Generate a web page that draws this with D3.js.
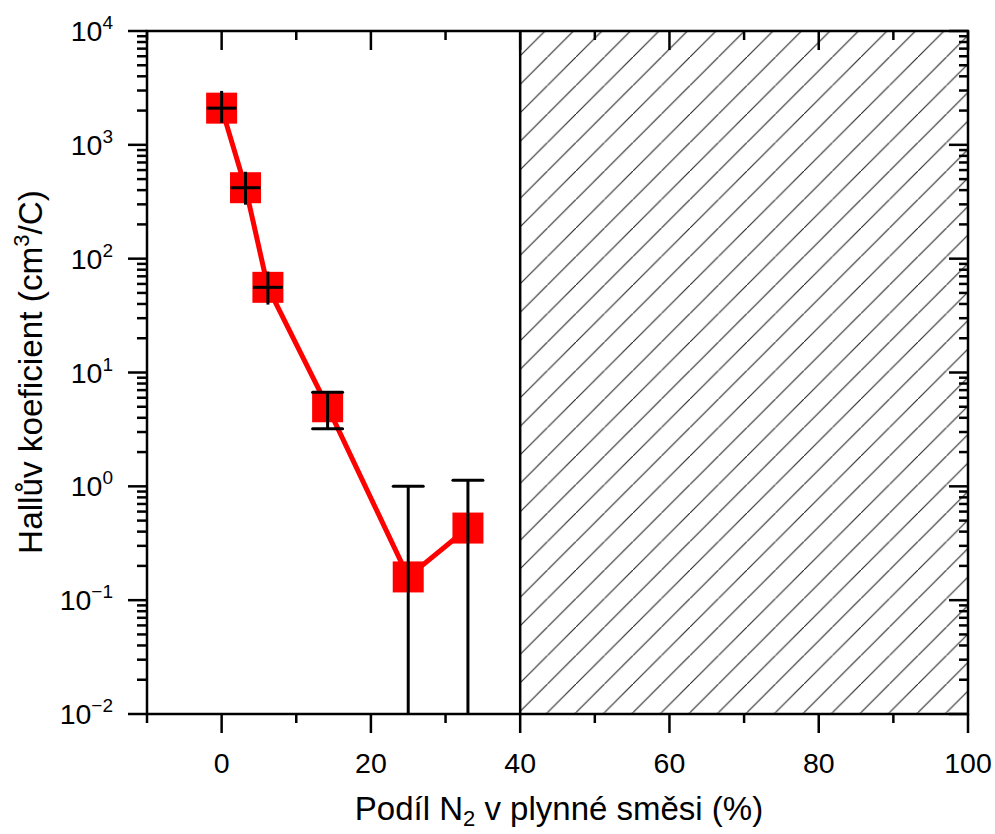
<!DOCTYPE html>
<html><head><meta charset="utf-8">
<script src="https://cdn.jsdelivr.net/npm/d3@7"></script>
<style>body{margin:0;background:#fff}svg{display:block}text{font-family:Arial,"Liberation Sans",sans-serif;fill:#000}</style>
</head><body>
<svg id="c" width="995" height="834"></svg>
<script>
const xVals = [0, 3.2, 6.2, 14.2, 25, 33];
const yVals = [2100, 420, 56, 5.0, 0.16, 0.43];
const yErrLow = [1560, 298, 39.5, 3.2, 0.001, 0.001];
const yErrHigh = [2976, 580, 77, 6.7, 1.0, 1.13];
const xErr = [2, 2, 2, 0, 0, 0];
const capShown = [false, false, false, true, true, true];
const xTicks = [0, 20, 40, 60, 80, 100];
const yTickExps = [-2, -1, 0, 1, 2, 3, 4];
const hatchRange = [40, 100];

const svg = d3.select("#c");
const L = 147, R = 968, T = 31, B = 714;
const x = d3.scaleLinear().domain([-10, 100]).range([L, R]);
const y = d3.scaleLog().domain([1e-2, 1e4]).range([B, T]);

const defs = svg.append("defs");
const sp = 28.5;
const pat = defs.append("pattern").attr("id", "hatch").attr("patternUnits", "userSpaceOnUse")
  .attr("width", sp).attr("height", sp).attr("x", 6).attr("y", 0);
pat.append("line").attr("x1", -1).attr("y1", sp + 1).attr("x2", sp + 1).attr("y2", -1)
  .attr("stroke", "#222").attr("stroke-width", 1.1);
defs.append("clipPath").attr("id", "clip").append("rect")
  .attr("x", L).attr("y", T).attr("width", R - L).attr("height", B - T);

svg.append("rect").attr("x", x(hatchRange[0])).attr("y", T)
  .attr("width", x(hatchRange[1]) - x(hatchRange[0])).attr("height", B - T)
  .attr("fill", "url(#hatch)");
svg.append("line").attr("x1", x(hatchRange[0])).attr("x2", x(hatchRange[0]))
  .attr("y1", T).attr("y2", B).attr("stroke", "#000").attr("stroke-width", 2.5);

const data = xVals.map((v, i) => ({x: v, y: yVals[i], lo: yErrLow[i], hi: yErrHigh[i], xe: xErr[i], cap: capShown[i]}));

const g = svg.append("g").attr("clip-path", "url(#clip)");
g.append("path").datum(data)
  .attr("d", d3.line().x(d => x(d.x)).y(d => y(d.y)))
  .attr("fill", "none").attr("stroke", "#ff0000").attr("stroke-width", 5).attr("stroke-linejoin", "round");
const ms = 31;
g.selectAll("rect.m").data(data).join("rect").attr("class", "m")
  .attr("x", d => x(d.x) - ms / 2).attr("y", d => y(d.y) - ms / 2)
  .attr("width", ms).attr("height", ms).attr("fill", "#ff0000");
g.selectAll("line.ev").data(data).join("line").attr("class", "ev")
  .attr("x1", d => x(d.x)).attr("x2", d => x(d.x))
  .attr("y1", d => y(d.lo)).attr("y2", d => y(d.hi))
  .attr("stroke", "#000").attr("stroke-width", 3);
const cw = 15;
const capData = data.filter(d => d.cap);
g.selectAll("line.ch").data(capData).join("line").attr("class", "ch")
  .attr("x1", d => x(d.x) - cw).attr("x2", d => x(d.x) + cw)
  .attr("y1", d => y(d.hi)).attr("y2", d => y(d.hi))
  .attr("stroke", "#000").attr("stroke-width", 3).attr("stroke-linecap", "round");
g.selectAll("line.cl").data(capData.filter(d => d.lo > 0.01)).join("line").attr("class", "cl")
  .attr("x1", d => x(d.x) - cw).attr("x2", d => x(d.x) + cw)
  .attr("y1", d => y(d.lo)).attr("y2", d => y(d.lo))
  .attr("stroke", "#000").attr("stroke-width", 3).attr("stroke-linecap", "round");
g.selectAll("line.eh").data(data.filter(d => d.xe > 0)).join("line").attr("class", "eh")
  .attr("x1", d => x(d.x - d.xe)).attr("x2", d => x(d.x + d.xe))
  .attr("y1", d => y(d.y)).attr("y2", d => y(d.y))
  .attr("stroke", "#000").attr("stroke-width", 3);

const sw = 2.5;
const minorX = d3.range(-10, 101, 10).filter(v => !xTicks.includes(v));
const yMinor = [];
for (let e = -2; e < 4; e++) for (let k = 2; k <= 9; k++) yMinor.push(k * Math.pow(10, e));
const yMajor = yTickExps.map(e => Math.pow(10, e));

function ticks(cls, vals, axisFn, len) {
  svg.selectAll("line." + cls).data(vals).join("line").attr("class", cls)
    .each(function (v) { const a = axisFn(v, len); d3.select(this).attr("x1", a[0]).attr("y1", a[1]).attr("x2", a[2]).attr("y2", a[3]); })
    .attr("stroke", "#000").attr("stroke-width", sw);
}
ticks("xb", xTicks, (v, l) => [x(v), B, x(v), B + l], 19);
ticks("xbm", minorX, (v, l) => [x(v), B, x(v), B + l], 9);
ticks("xt", xTicks, (v, l) => [x(v), T, x(v), T + l], 19);
ticks("xtm", minorX, (v, l) => [x(v), T, x(v), T + l], 9);
ticks("yl", yMajor, (v, l) => [L, y(v), L - l, y(v)], 19);
ticks("ylm", yMinor, (v, l) => [L, y(v), L - l, y(v)], 10);
ticks("yr", yMajor, (v, l) => [R, y(v), R - l, y(v)], 19);
ticks("yrm", yMinor, (v, l) => [R, y(v), R - l, y(v)], 9);

svg.append("rect").attr("x", L).attr("y", T).attr("width", R - L).attr("height", B - T)
  .attr("fill", "none").attr("stroke", "#000").attr("stroke-width", sw);

svg.selectAll("text.xl").data(xTicks).join("text").attr("class", "xl")
  .attr("x", v => x(v)).attr("y", 773).attr("text-anchor", "middle")
  .attr("font-size", 28.5).text(v => v);
const yl = svg.selectAll("text.yl").data(yTickExps).join("text").attr("class", "yl")
  .attr("x", 113).attr("y", e => y(Math.pow(10, e)) + 10).attr("text-anchor", "end")
  .attr("font-size", 28.5);
yl.append("tspan").text("10");
yl.append("tspan").attr("dy", -12).attr("font-size", 19).text(e => e < 0 ? "\u2212" + Math.abs(e) : e);

const xt = svg.append("text").attr("x", 559).attr("y", 820).attr("text-anchor", "middle").attr("font-size", 33);
xt.append("tspan").text("Podíl N");
xt.append("tspan").attr("dy", 6).attr("font-size", 22).text("2");
xt.append("tspan").attr("dy", -6).text(" v plynné směsi (%)");
const ytl = svg.append("text").attr("transform", "translate(42,372) rotate(-90)").attr("text-anchor", "middle").attr("font-size", 33.3);
ytl.append("tspan").text("Hallův koeficient (cm");
ytl.append("tspan").attr("dy", -13).attr("font-size", 22).text("3");
ytl.append("tspan").attr("dy", 13).text("/C)");
</script>
</body></html>
